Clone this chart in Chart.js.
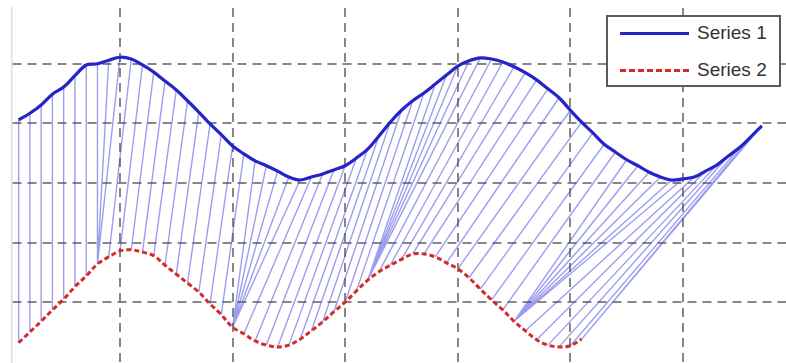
<!DOCTYPE html>
<html lang="en">
<head>
  <meta charset="UTF-8" />
  <title>Series alignment</title>
  <script src="https://cdn.jsdelivr.net/npm/chart.js"></script>
  <style>
    html, body { margin: 0; padding: 0; background: #fff; }
    #wrap { position: relative; width: 786px; height: 363px; }
    #legend {
      position: absolute; left: 606px; top: 15px; width: 171px; height: 68px;
      border: 2px solid #5a5a5a; background: #fff;
      font-family: "Liberation Sans", Arial, sans-serif; font-size: 19px; color: #333;
    }
    .row { position: absolute; left: 0; height: 24px; display: flex; align-items: center; }
    .sample { width: 69px; margin-left: 12px; margin-right: 8px; }
    .s1 { border-top: 3px solid #2424c8; }
    .s2 { border-top: 3px dashed #d62a2a; }
  </style>
</head>
<body>
  <div id="wrap">
    <canvas id="chart" width="786" height="363"></canvas>
    <div id="legend">
      <div class="row" style="top:4px"><span class="sample s1"></span><span>Series 1</span></div>
      <div class="row" style="top:41px"><span class="sample s2"></span><span>Series 2</span></div>
    </div>
  </div>

<script>
// sample clock shared by both series
const sampleStep = 0.1;

// Series 1 (upper, solid blue)
const series1 = [
  1.06, 1.17, 1.31, 1.49, 1.61, 1.80, 1.98, 2.00, 2.06, 2.11,
  2.08, 1.98, 1.86, 1.71, 1.56, 1.38, 1.19, 0.99, 0.81, 0.62,
  0.49, 0.37, 0.29, 0.20, 0.10, 0.05, 0.10, 0.15, 0.22, 0.29,
  0.42, 0.57, 0.79, 1.02, 1.22, 1.38, 1.51, 1.66, 1.81, 1.96,
  2.05, 2.10, 2.08, 2.03, 1.95, 1.85, 1.73, 1.58, 1.43, 1.22,
  1.02, 0.84, 0.65, 0.52, 0.39, 0.29, 0.18, 0.10, 0.05, 0.07,
  0.10, 0.20, 0.30, 0.45, 0.59, 0.77, 0.96
];

// Series 2 (lower, dashed red)
const series2 = [
  -2.68, -2.50, -2.32, -2.13, -1.95, -1.74, -1.56, -1.36, -1.24, -1.14,
  -1.12, -1.16, -1.22, -1.38, -1.53, -1.68, -1.83, -2.03, -2.21, -2.42,
  -2.53, -2.65, -2.72, -2.75, -2.72, -2.62, -2.48, -2.33, -2.16, -2.00,
  -1.81, -1.63, -1.49, -1.38, -1.28, -1.19, -1.19, -1.24, -1.34, -1.44,
  -1.59, -1.78, -1.96, -2.13, -2.32, -2.48, -2.63, -2.72, -2.75, -2.73,
  -2.62
];

// for each point of series 1, the index of the series 2 point it is matched to
const warpTo = [
  0, 1, 2, 3, 4, 5, 6, 7, 7, 7,
  8, 9, 10, 11, 12, 13, 14, 15, 16, 17,
  18, 19, 19, 19, 19, 19, 20, 21, 22, 23,
  24, 25, 26, 27, 28, 29, 30, 31, 31, 31,
  31, 31, 32, 33, 34, 35, 36, 37, 38, 39,
  40, 41, 42, 43, 44, 44, 44, 44, 44, 44,
  45, 46, 47, 48, 49, 50, 50
];

const xGrid = [1, 2, 3, 4, 5, 6];
const yGrid = [-2, -1, 0, 1, 2];

const pts1 = series1.map((v, i) => ({ x: (i + 1) * sampleStep, y: v }));
const pts2 = series2.map((v, i) => ({ x: (i + 1) * sampleStep, y: v }));

const links = [];
warpTo.forEach((j, i) => {
  links.push(pts1[i], pts2[j], { x: pts2[j].x, y: null });
});

const gridDash = [9, 6];
const gridColor = 'rgba(105,105,105,0.8)';

new Chart(document.getElementById('chart'), {
  type: 'line',
  data: {
    datasets: [
      {
        label: 'Series 1',
        data: pts1,
        borderColor: '#2424c8',
        borderWidth: 3.2,
        pointRadius: 0,
        tension: 0.35,
        order: 0
      },
      {
        label: 'Series 2',
        data: pts2,
        borderColor: '#d62a2a',
        borderWidth: 3,
        borderDash: [5, 3],
        pointRadius: 0,
        tension: 0.35,
        order: 1
      },
      {
        label: 'links',
        data: links,
        borderColor: 'rgba(60,60,225,0.5)',
        borderWidth: 1.4,
        pointRadius: 0,
        spanGaps: false,
        order: 5
      }
    ]
  },
  options: {
    responsive: false,
    animation: false,
    events: [],
    layout: { padding: { left: 12, top: 8, right: 0, bottom: 0 } },
    plugins: { legend: { display: false }, tooltip: { enabled: false } },
    scales: {
      x: {
        type: 'linear',
        min: 0.041,
        max: 6.915,
        afterBuildTicks: axis => { axis.ticks = xGrid.map(v => ({ value: v })); },
        ticks: { display: false },
        grid: { color: gridColor, lineWidth: 2, drawTicks: false },
        border: { display: false, dash: gridDash }
      },
      y: {
        min: -3.02,
        max: 2.936,
        afterBuildTicks: axis => { axis.ticks = yGrid.map(v => ({ value: v })); },
        ticks: { display: false },
        grid: { color: gridColor, lineWidth: 2, drawTicks: false },
        border: { display: true, color: '#dcdcdc', width: 1.5, dash: gridDash }
      }
    }
  }
});
</script>
</body>
</html>
